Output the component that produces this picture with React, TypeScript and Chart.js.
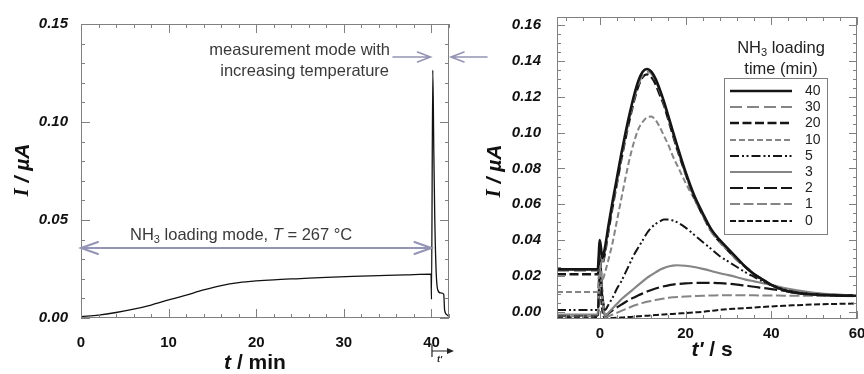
import React, { useEffect, useRef } from "react";
import { Chart, registerables } from "chart.js";
Chart.register(...registerables);

// ---------- Left panel data (t in min, I in µA) ----------
const loadTimeMin = [0, 2, 4, 6, 8, 10, 12, 14, 16, 18, 20, 22, 25, 28, 31, 34, 37, 39.95, 40.0, 40.15, 40.27, 40.38, 40.54, 40.72, 41.03, 41.4, 41.5, 41.8, 42];
const loadCurrent = [0.0007, 0.0015, 0.0028, 0.0045, 0.0066, 0.0092, 0.0117, 0.0143, 0.0165, 0.018, 0.0189, 0.0195, 0.0201, 0.0207, 0.0212, 0.0216, 0.022, 0.0224, 0.0095, 0.1265, 0.084, 0.05, 0.023, 0.0143, 0.0128, 0.0122, 0.004, 0.0015, 0.0007];

const leftXTicks = [0, 10, 20, 30, 40];
const leftYTicks = [0, 0.05, 0.1, 0.15];

// ---------- Right panel data (t' in s, I in µA) ----------
const tPrime = [-10, -1, -0.5, 0, 0.6, 1.2, 2, 3, 4, 5, 6, 7, 8, 9, 10, 11, 12, 13, 14, 15, 16, 17, 18, 20, 22, 24, 26, 28, 30, 32, 34, 36, 38, 40, 43, 46, 50, 55, 60];
const i40 = [0.0237, 0.0237, 0.0237, 0.040, 0.030, 0.036, 0.048, 0.062, 0.075, 0.088, 0.100, 0.111, 0.121, 0.129, 0.134, 0.1355, 0.134, 0.130, 0.124, 0.117, 0.109, 0.101, 0.093, 0.078, 0.065, 0.055, 0.046, 0.040, 0.035, 0.030, 0.025, 0.021, 0.018, 0.015, 0.012, 0.0105, 0.0097, 0.0092, 0.009];
const i30 = [0.023, 0.023, 0.023, 0.035, 0.028, 0.034, 0.046, 0.060, 0.073, 0.086, 0.098, 0.109, 0.119, 0.127, 0.132, 0.134, 0.133, 0.129, 0.123, 0.116, 0.108, 0.100, 0.092, 0.077, 0.064, 0.054, 0.045, 0.039, 0.034, 0.029, 0.025, 0.021, 0.018, 0.015, 0.012, 0.0105, 0.0097, 0.0092, 0.009];
const i20 = [0.021, 0.021, 0.021, 0.033, 0.027, 0.033, 0.045, 0.059, 0.072, 0.085, 0.097, 0.108, 0.118, 0.126, 0.131, 0.1325, 0.131, 0.127, 0.121, 0.115, 0.107, 0.099, 0.091, 0.077, 0.064, 0.054, 0.045, 0.039, 0.034, 0.029, 0.025, 0.021, 0.018, 0.015, 0.012, 0.0105, 0.0097, 0.0092, 0.009];
const i10 = [0.011, 0.011, 0.011, 0.028, 0.018, 0.022, 0.029, 0.039, 0.051, 0.063, 0.075, 0.086, 0.095, 0.102, 0.106, 0.1085, 0.109, 0.107, 0.103, 0.098, 0.093, 0.087, 0.082, 0.072, 0.063, 0.054, 0.046, 0.040, 0.034, 0.029, 0.025, 0.021, 0.018, 0.015, 0.012, 0.0105, 0.0097, 0.0092, 0.009];
const i5 = [0.001, 0.001, 0.001, 0.02, 0.008, 0.001, 0.004, 0.008, 0.013, 0.017, 0.022, 0.027, 0.032, 0.036, 0.040, 0.044, 0.047, 0.049, 0.0505, 0.0515, 0.0515, 0.051, 0.050, 0.047, 0.043, 0.039, 0.035, 0.031, 0.028, 0.025, 0.022, 0.0195, 0.017, 0.015, 0.0125, 0.011, 0.0098, 0.0092, 0.009];
const i3 = [-0.0015, -0.0015, -0.0015, 0.025, 0.008, -0.002, -0.0005, 0.002, 0.0045, 0.007, 0.009, 0.011, 0.013, 0.015, 0.017, 0.019, 0.0205, 0.022, 0.0235, 0.0245, 0.0253, 0.0258, 0.026, 0.0257, 0.025, 0.024, 0.0228, 0.0215, 0.0205, 0.0193, 0.018, 0.017, 0.016, 0.015, 0.0133, 0.012, 0.0106, 0.0096, 0.009];
const i2 = [-0.002, -0.002, -0.002, 0.03, 0.01, -0.002, -0.001, 0.001, 0.0025, 0.004, 0.0055, 0.007, 0.008, 0.0092, 0.0103, 0.0113, 0.0122, 0.013, 0.0137, 0.0143, 0.0148, 0.0152, 0.0155, 0.0159, 0.0161, 0.0162, 0.0162, 0.016, 0.0157, 0.0152, 0.0146, 0.014, 0.0133, 0.0127, 0.0118, 0.011, 0.0102, 0.0095, 0.009];
const i1 = [-0.0025, -0.0025, -0.0025, 0.02, 0.006, -0.003, -0.0025, -0.0015, -0.0005, 0.0005, 0.0015, 0.0025, 0.0035, 0.0043, 0.005, 0.0056, 0.0061, 0.0066, 0.007, 0.0074, 0.0078, 0.0081, 0.0083, 0.0086, 0.0088, 0.009, 0.0091, 0.0092, 0.0092, 0.0092, 0.0092, 0.0092, 0.0091, 0.0091, 0.009, 0.009, 0.0089, 0.0088, 0.0087];
const i0 = [-0.003, -0.003, -0.003, 0.012, 0.0, -0.0035, -0.0035, -0.0034, -0.0033, -0.0032, -0.003, -0.0029, -0.0027, -0.0025, -0.0023, -0.0022, -0.002, -0.0018, -0.0016, -0.0015, -0.0013, -0.0012, -0.001, -0.0007, -0.0003, 0.0, 0.0005, 0.0011, 0.0015, 0.0018, 0.0021, 0.0024, 0.0027, 0.003, 0.0034, 0.0037, 0.0041, 0.0044, 0.0047];

const loadingLabels = ["40", "30", "20", "10", "5", "3", "2", "1", "0"];
const loadingSeries = [i40, i30, i20, i10, i5, i3, i2, i1, i0];

const rightXTicks = [0, 20, 40, 60];
const rightYTicks = [0, 0.02, 0.04, 0.06, 0.08, 0.1, 0.12, 0.14, 0.16];

// ---------- Styles ----------
const BLACK = "#151515";
const GRAY = "#858585";
const seriesStyles = [
  { color: BLACK, width: 2.6, dash: [] as number[] },
  { color: GRAY, width: 2.2, dash: [12, 5] },
  { color: BLACK, width: 2.4, dash: [9, 3.5] },
  { color: GRAY, width: 2.0, dash: [6, 3] },
  { color: BLACK, width: 2.0, dash: [9, 3, 2, 2.5, 2, 3] },
  { color: GRAY, width: 2.2, dash: [] as number[] },
  { color: BLACK, width: 2.2, dash: [13, 4] },
  { color: GRAY, width: 2.0, dash: [10, 3.5] },
  { color: BLACK, width: 2.0, dash: [6, 2.5] },
];

const SANS = '"Liberation Sans", Arial, sans-serif';
const SERIF = '"Liberation Serif", "Times New Roman", serif';
const ARROW = "#9494b4";
const TEXT = "#3a3a3a";
const FRAME = "#808080";

type Seg = { text: string; font: string; dy?: number };

function drawSegs(ctx: CanvasRenderingContext2D, segs: Seg[], x: number, y: number, align: "left" | "center" | "right") {
  let total = 0;
  for (const s of segs) {
    ctx.font = s.font;
    total += ctx.measureText(s.text).width;
  }
  let cx = align === "left" ? x : align === "center" ? x - total / 2 : x - total;
  ctx.textAlign = "left";
  ctx.textBaseline = "middle";
  for (const s of segs) {
    ctx.font = s.font;
    ctx.fillText(s.text, cx, y + (s.dy || 0));
    cx += ctx.measureText(s.text).width;
  }
}

function drawFrameTicks(chart: any, xMinor: number[], xMajor: number[], yMinor: number[], yMajor: number[], majLen: number, minLen: number) {
  const { ctx, chartArea: a, scales } = chart;
  ctx.save();
  ctx.strokeStyle = FRAME;
  ctx.lineWidth = 1;
  ctx.setLineDash([]);
  ctx.strokeRect(Math.round(a.left) + 0.5, Math.round(a.top) + 0.5, Math.round(a.right - a.left) - 1, Math.round(a.bottom - a.top) - 1);
  ctx.beginPath();
  const tickX = (v: number, len: number) => {
    const px = Math.round(scales.x.getPixelForValue(v)) + 0.5;
    ctx.moveTo(px, a.bottom);
    ctx.lineTo(px, a.bottom - len);
    ctx.moveTo(px, a.top);
    ctx.lineTo(px, a.top + len);
  };
  const tickY = (v: number, len: number) => {
    const py = Math.round(scales.y.getPixelForValue(v)) + 0.5;
    ctx.moveTo(a.left, py);
    ctx.lineTo(a.left + len, py);
    ctx.moveTo(a.right, py);
    ctx.lineTo(a.right - len, py);
  };
  xMinor.forEach((v) => tickX(v, minLen));
  xMajor.forEach((v) => tickX(v, majLen));
  yMinor.forEach((v) => tickY(v, minLen));
  yMajor.forEach((v) => tickY(v, majLen));
  ctx.stroke();
  ctx.restore();
}

function arrowHead(ctx: CanvasRenderingContext2D, x: number, y: number, dir: number, len: number, half: number) {
  ctx.moveTo(x - dir * len, y - half);
  ctx.lineTo(x, y);
  ctx.lineTo(x - dir * len, y + half);
}

const range = (a: number, b: number, s: number) => {
  const out: number[] = [];
  for (let v = a; v <= b + 1e-9; v += s) out.push(Math.round(v * 1e6) / 1e6);
  return out;
};

const leftPlugin = {
  id: "leftDecor",
  afterDatasetsDraw(chart: any) {
    const { ctx, chartArea: a, scales } = chart;
    drawFrameTicks(chart, range(0, 42, 2), leftXTicks, range(0, 0.15, 0.01), leftYTicks, 9, 4);
    ctx.save();
    // axis titles
    ctx.fillStyle = "#111";
    drawSegs(ctx, [
      { text: "t", font: `italic bold 21px ${SANS}` },
      { text: " / min", font: `bold 21px ${SANS}` },
    ], 255, 363, "center");
    ctx.save();
    ctx.translate(23, 170);
    ctx.rotate(-Math.PI / 2);
    drawSegs(ctx, [
      { text: "I", font: `italic bold 21px ${SERIF}` },
      { text: " / µA", font: `italic bold 21px ${SANS}` },
    ], 0, 0, "center");
    ctx.restore();

    // annotations
    ctx.fillStyle = TEXT;
    drawSegs(ctx, [{ text: "measurement mode with", font: `16.5px ${SANS}` }], 390, 50, "right");
    drawSegs(ctx, [{ text: "increasing temperature", font: `16.5px ${SANS}` }], 389, 71, "right");
    drawSegs(ctx, [
      { text: "NH", font: `16.5px ${SANS}` },
      { text: "3", font: `11px ${SANS}`, dy: 5 },
      { text: " loading mode, ", font: `16.5px ${SANS}` },
      { text: "T", font: `italic 16.5px ${SANS}` },
      { text: " = 267 °C", font: `16.5px ${SANS}` },
    ], 130, 235, "left");

    ctx.strokeStyle = ARROW;
    ctx.lineWidth = 2;
    ctx.lineCap = "round";
    const yA = Math.round(scales.y.getPixelForValue(0.0357));
    const x0 = scales.x.getPixelForValue(0);
    const x40 = scales.x.getPixelForValue(40);
    ctx.beginPath();
    ctx.moveTo(x0, yA);
    ctx.lineTo(x40, yA);
    arrowHead(ctx, x0, yA, -1, 17, 6);
    arrowHead(ctx, x40, yA, 1, 17, 6);
    ctx.stroke();

    const yB = Math.round(scales.y.getPixelForValue(0.133));
    ctx.lineWidth = 1.6;
    ctx.beginPath();
    ctx.moveTo(393, yB);
    ctx.lineTo(x40 - 1, yB);
    arrowHead(ctx, x40 - 1, yB, 1, 13, 5);
    ctx.moveTo(a.right + 2, yB);
    ctx.lineTo(487, yB);
    arrowHead(ctx, a.right + 2, yB, -1, 13, 5);
    ctx.stroke();

    // t' marker below 40
    ctx.strokeStyle = "#222";
    ctx.fillStyle = "#222";
    ctx.lineWidth = 1.2;
    ctx.lineCap = "butt";
    ctx.beginPath();
    ctx.moveTo(x40 + 0.5, 345);
    ctx.lineTo(x40 + 0.5, 357);
    ctx.moveTo(x40, 351);
    ctx.lineTo(448, 351);
    ctx.stroke();
    ctx.beginPath();
    ctx.moveTo(454, 351);
    ctx.lineTo(447, 348);
    ctx.lineTo(447, 354);
    ctx.closePath();
    ctx.fill();
    drawSegs(ctx, [{ text: "t'", font: `italic bold 9px ${SANS}` }], 437, 360, "left");
    ctx.restore();
  },
};

const rightPlugin = {
  id: "rightDecor",
  afterDatasetsDraw(chart: any) {
    const { ctx } = chart;
    drawFrameTicks(chart, range(-8, 60, 4), rightXTicks, range(0, 0.16, 0.005), rightYTicks, 8, 4);
    const off = 440;
    ctx.save();
    ctx.fillStyle = "#111";
    drawSegs(ctx, [
      { text: "t'", font: `italic bold 21px ${SANS}` },
      { text: " / s", font: `bold 21px ${SANS}` },
    ], 712 - off, 350, "center");
    ctx.save();
    ctx.translate(495 - off, 171);
    ctx.rotate(-Math.PI / 2);
    drawSegs(ctx, [
      { text: "I", font: `italic bold 21px ${SERIF}` },
      { text: " / µA", font: `italic bold 21px ${SANS}` },
    ], 0, 0, "center");
    ctx.restore();

    // legend
    ctx.fillStyle = "#222";
    drawSegs(ctx, [
      { text: "NH", font: `16.5px ${SANS}` },
      { text: "3", font: `11px ${SANS}`, dy: 5 },
      { text: " loading", font: `16.5px ${SANS}` },
    ], 781 - off, 48, "center");
    drawSegs(ctx, [{ text: "time (min)", font: `16.5px ${SANS}` }], 781 - off, 69, "center");
    ctx.strokeStyle = FRAME;
    ctx.lineWidth = 1;
    ctx.strokeRect(724.5 - off, 78.5, 103, 156);
    loadingLabels.forEach((lab, k) => {
      const st = seriesStyles[k];
      const y = Math.round(91 + k * 16.2);
      ctx.save();
      ctx.strokeStyle = st.color;
      ctx.lineWidth = st.width;
      ctx.setLineDash(st.dash);
      ctx.beginPath();
      ctx.moveTo(730 - off, y);
      ctx.lineTo(792 - off, y);
      ctx.stroke();
      ctx.restore();
      ctx.fillStyle = "#222";
      drawSegs(ctx, [{ text: lab, font: `14px ${SANS}` }], 805 - off, y, "left");
    });
    ctx.restore();
  },
};

function fixedAxis(size: number, horizontal: boolean) {
  return (s: any) => {
    if (horizontal) s.height = size;
    else s.width = size;
    s.paddingLeft = 0;
    s.paddingRight = 0;
    s.paddingTop = 0;
    s.paddingBottom = 0;
  };
}

export default function App() {
  const leftRef = useRef<HTMLCanvasElement>(null);
  const rightRef = useRef<HTMLCanvasElement>(null);

  useEffect(() => {
    const tickFontY = { family: SANS, size: 15, weight: "bold" as const, style: "italic" as const };
    const tickFontX = { family: SANS, size: 15, weight: "bold" as const };

    const left = new Chart(leftRef.current!, {
      type: "line",
      data: {
        datasets: [
          {
            data: loadTimeMin.map((t, i) => ({ x: t, y: loadCurrent[i] })),
            borderColor: "#111",
            borderWidth: 1.3,
            pointRadius: 0,
            cubicInterpolationMode: "monotone",
            fill: false,
          },
        ],
      },
      options: {
        animation: false,
        responsive: false,
        maintainAspectRatio: false,
        layout: { padding: { left: 0, top: 24, right: 51, bottom: 0 } },
        plugins: { legend: { display: false }, tooltip: { enabled: false } },
        scales: {
          x: {
            type: "linear",
            min: 0,
            max: 42,
            grid: { display: false },
            border: { display: false },
            afterBuildTicks: (s: any) => { s.ticks = leftXTicks.map((v) => ({ value: v })); },
            afterFit: fixedAxis(56, true),
            ticks: { padding: 8, font: tickFontX, color: "#111", maxRotation: 0, autoSkip: false, callback: (v: any) => String(v) },
          },
          y: {
            type: "linear",
            min: 0,
            max: 0.15,
            grid: { display: false },
            border: { display: false },
            afterBuildTicks: (s: any) => { s.ticks = leftYTicks.map((v) => ({ value: v })); },
            afterFit: fixedAxis(81, false),
            ticks: { padding: 5, font: tickFontY, color: "#111", autoSkip: false, callback: (v: any) => Number(v).toFixed(2) },
          },
        },
      },
      plugins: [leftPlugin],
    } as any);

    const right = new Chart(rightRef.current!, {
      type: "line",
      data: {
        datasets: loadingSeries.map((arr, k) => ({
          label: loadingLabels[k],
          data: tPrime.map((t, i) => ({ x: t, y: arr[i] })),
          borderColor: seriesStyles[k].color,
          borderWidth: seriesStyles[k].width,
          borderDash: seriesStyles[k].dash,
          pointRadius: 0,
          cubicInterpolationMode: "monotone",
          fill: false,
        })),
      },
      options: {
        animation: false,
        responsive: false,
        maintainAspectRatio: false,
        layout: { padding: { left: 0, top: 17, right: 7, bottom: 0 } },
        plugins: { legend: { display: false }, tooltip: { enabled: false } },
        scales: {
          x: {
            type: "linear",
            min: -10,
            max: 60,
            grid: { display: false },
            border: { display: false },
            afterBuildTicks: (s: any) => { s.ticks = rightXTicks.map((v) => ({ value: v })); },
            afterFit: fixedAxis(55, true),
            ticks: { padding: -2, font: tickFontX, color: "#111", maxRotation: 0, autoSkip: false, callback: (v: any) => String(v) },
          },
          y: {
            type: "linear",
            min: -0.004,
            max: 0.1645,
            grid: { display: false },
            border: { display: false },
            afterBuildTicks: (s: any) => { s.ticks = rightYTicks.map((v) => ({ value: v })); },
            afterFit: fixedAxis(117, false),
            ticks: { padding: 8, font: tickFontY, color: "#111", autoSkip: false, callback: (v: any) => Number(v).toFixed(2) },
          },
        },
      },
      plugins: [rightPlugin],
    } as any);

    return () => {
      left.destroy();
      right.destroy();
    };
  }, []);

  return (
    <div style={{ position: "absolute", left: 0, top: 0, width: 864, height: 374, background: "#fff", overflow: "hidden" }}>
      <canvas ref={leftRef} width={500} height={374} style={{ position: "absolute", left: 0, top: 0 }} />
      <canvas ref={rightRef} width={424} height={374} style={{ position: "absolute", left: 440, top: 0 }} />
    </div>
  );
}
